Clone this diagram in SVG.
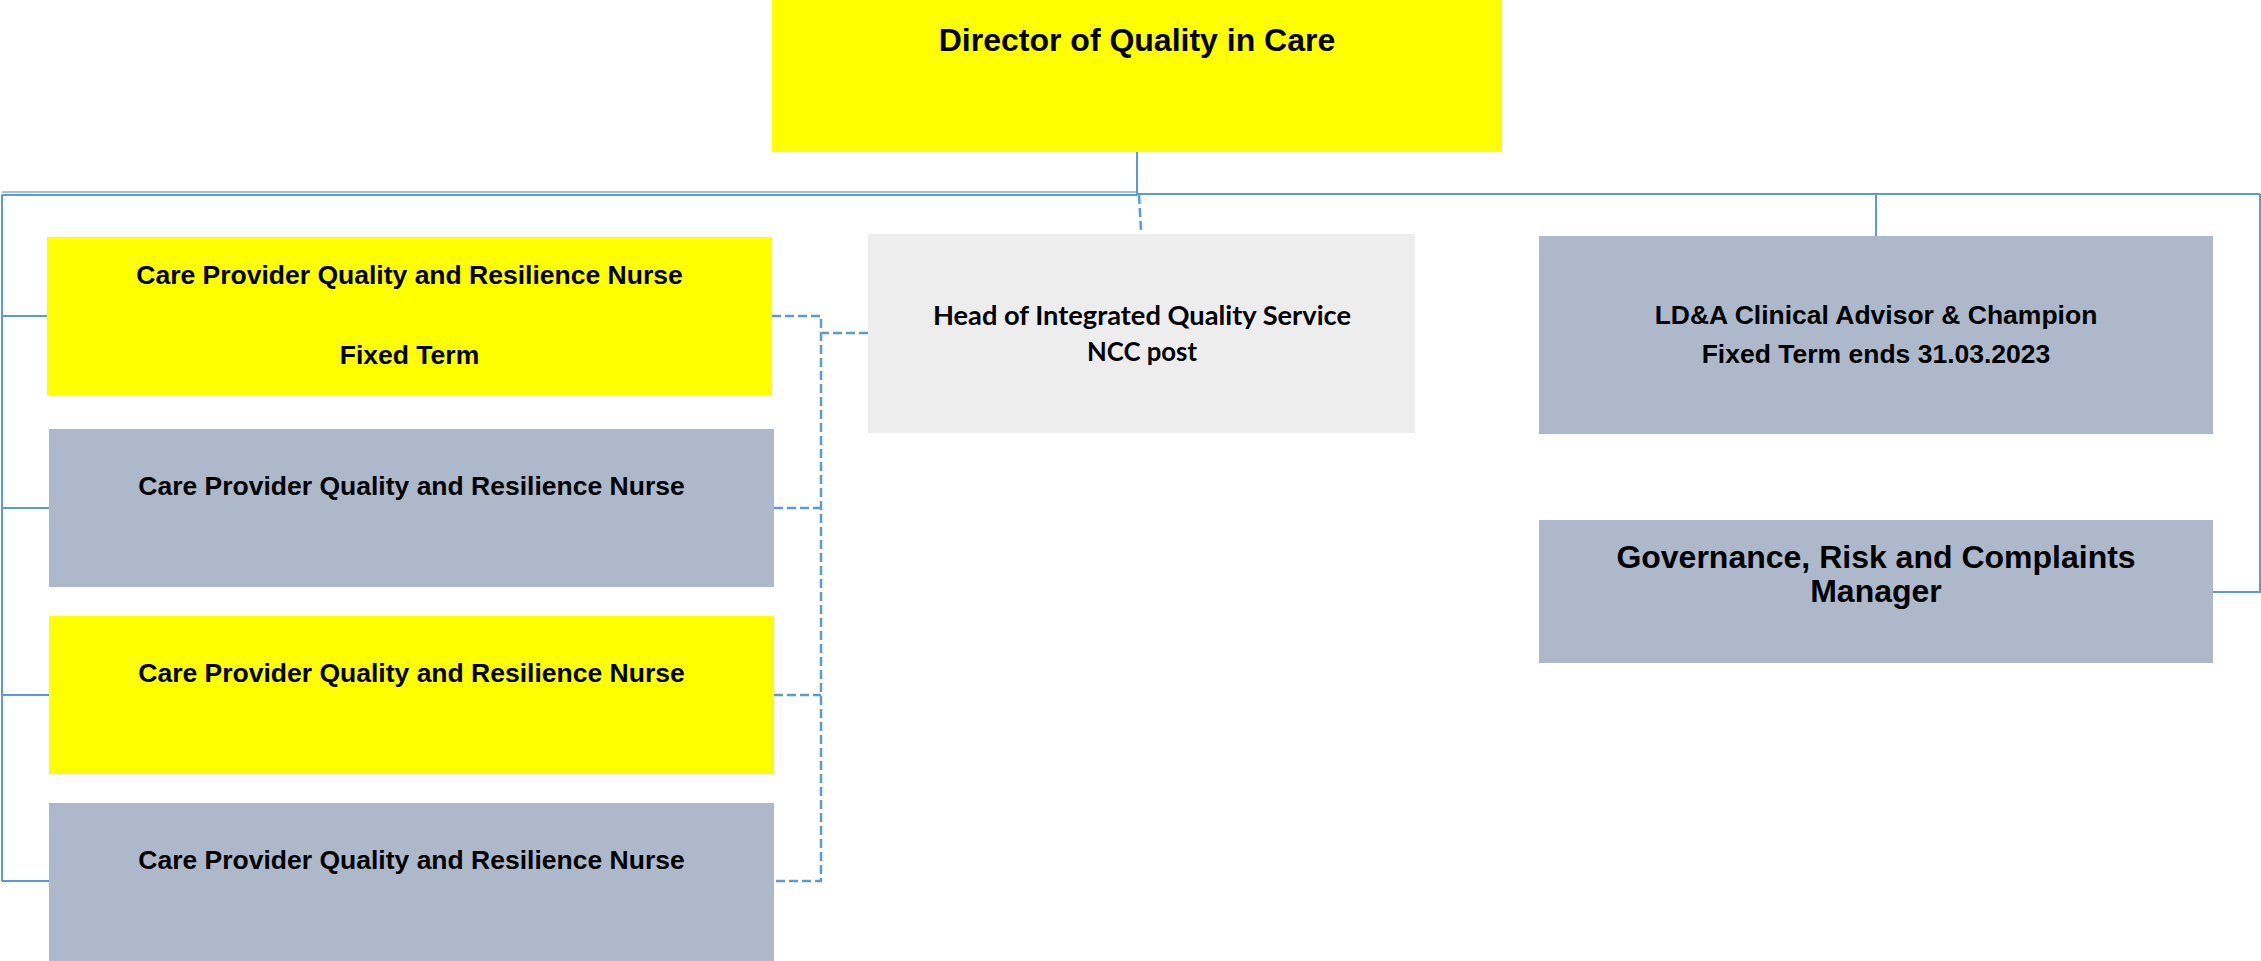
<svg xmlns="http://www.w3.org/2000/svg" width="2261" height="961" viewBox="0 0 2261 961">
<style>
.yel{fill:#FFFF00}
.gry{fill:#ADB9CA}
.lgt{fill:#EDEDED}
.t{font-family:"Liberation Sans",Arial,sans-serif;font-weight:bold;fill:#000;text-anchor:middle}
.t26{font-size:26.5px}
.t32{font-size:32px}
.c{font-family:Lato,"Open Sans",sans-serif;font-weight:bold;font-size:26px;fill:#000;text-anchor:middle}
.sol{fill:none;stroke:#5B9BD5;stroke-width:2}
.sol2{fill:none;stroke:#9DC3E6;stroke-width:2}
.dsh{fill:none;stroke:#5B9BD5;stroke-width:2.5;stroke-dasharray:9 4}
</style>
<rect width="2261" height="961" fill="#fff"/>
<g id="connectors">
<path class="sol2" d="M2,192 H1137"/>
<path class="sol" d="M1137,152 V194 M2,195 H1137 M1137,194 H2260 M2,195 V881 M2,316 H47 M2,508 H49 M2,695 H49 M2,881 H49 M1876,194 V236 M2260,194 V592 H2213"/>
<path class="dsh" d="M1139,195 L1141,230"/>
<path class="dsh" d="M868,333 H821 M772,316 H821 V881 H774 M774,508 H821 M774,695 H821"/>
</g>
<g id="director">
<rect class="yel" x="772" y="0" width="730" height="152"/>
<text class="t t32" x="1137" y="51">Director of Quality in Care</text>
</g>
<g id="head">
<rect class="lgt" x="868" y="234" width="547" height="199"/>
<text class="c" x="1142" y="325" textLength="418" lengthAdjust="spacingAndGlyphs">Head of Integrated Quality Service</text>
<text class="c" x="1142" y="361" textLength="110" lengthAdjust="spacingAndGlyphs">NCC post</text>
</g>
<g id="nurse1">
<rect class="yel" x="47" y="237" width="725" height="158"/>
<text class="t t26" x="409.5" y="284">Care Provider Quality and Resilience Nurse</text>
<text class="t t26" x="409.5" y="364">Fixed Term</text>
</g>
<g id="nurse2">
<rect class="gry" x="49" y="429" width="725" height="158"/>
<text class="t t26" x="411.5" y="495">Care Provider Quality and Resilience Nurse</text>
</g>
<g id="nurse3">
<rect class="yel" x="49" y="616" width="725" height="158"/>
<text class="t t26" x="411.5" y="682">Care Provider Quality and Resilience Nurse</text>
</g>
<g id="nurse4">
<rect class="gry" x="49" y="803" width="725" height="158"/>
<text class="t t26" x="411.5" y="869">Care Provider Quality and Resilience Nurse</text>
</g>
<g id="ldaa">
<rect class="gry" x="1539" y="236" width="674" height="198"/>
<text class="t t26" x="1876" y="324">LD&amp;A Clinical Advisor &amp; Champion</text>
<text class="t t26" x="1876" y="363">Fixed Term ends 31.03.2023</text>
</g>
<g id="governance">
<rect class="gry" x="1539" y="520" width="674" height="143"/>
<text class="t t32" x="1876" y="568">Governance, Risk and Complaints</text>
<text class="t t32" x="1876" y="602">Manager</text>
</g>
</svg>
